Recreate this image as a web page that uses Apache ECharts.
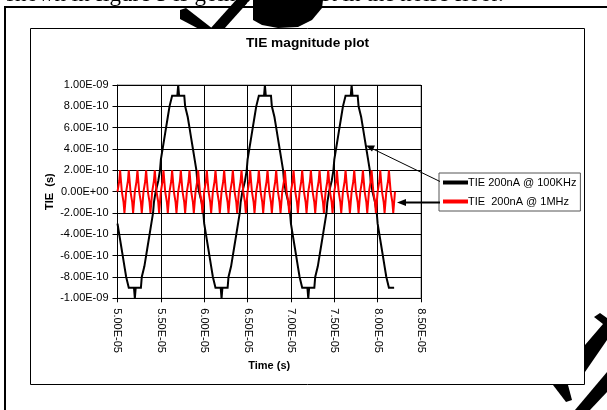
<!DOCTYPE html>
<html>
<head>
<meta charset="utf-8">
<script src="https://cdn.jsdelivr.net/npm/echarts@6/dist/echarts.min.js"></script>
<style>
  html, body { margin: 0; padding: 0; background: #fff; }
  #chart { width: 607px; height: 410px; }
</style>
</head>
<body>
<div id="chart"></div>
<script>
// Sampling grid of both TIE records
const t0 = 5.0e-5;      // first sample (s)
const dt = 1e-7;        // sample spacing (s)
const UNIT = 1e-10;     // TIE values below are stored in units of 0.1 ns

const seriesNames = ['TIE 200nA @ 100KHz', 'TIE  200nA @ 1MHz'];
const xTicks = { min: 5.0e-5, max: 8.5e-5, step: 5e-6 };
const yTicks = { min: -1e-9, max: 1e-9, step: 2e-10 };

// TIE with 100 kHz modulation (x 0.1 ns)
const tie100k = [
  -3,-3,-4,-4,-5,-5,-6,-6,-7,-7, -8,-8,-8,-9,-9,-9,-9,-9,-9,-9,
  -10,-9,-9,-9,-9,-9,-9,-9,-8,-8, -8,-7,-7,-6,-6,-5,-5,-4,-4,-3, -3,-2,-1,-1,0,0,0,1,1,2, 3,3,4,4,5,5,6,6,7,7, 8,8,8,9,9,9,9,9,9,9,
  10,9,9,9,9,9,9,9,8,8, 8,7,7,6,6,5,5,4,4,3, 3,2,1,1,0,0,0,-1,-1,-2, -3,-3,-4,-4,-5,-5,-6,-6,-7,-7, -8,-8,-8,-9,-9,-9,-9,-9,-9,-9,
  -10,-9,-9,-9,-9,-9,-9,-9,-8,-8, -8,-7,-7,-6,-6,-5,-5,-4,-4,-3, -3,-2,-1,-1,0,0,0,1,1,2, 3,3,4,4,5,5,6,6,7,7, 8,8,8,9,9,9,9,9,9,9,
  10,9,9,9,9,9,9,9,8,8, 8,7,7,6,6,5,5,4,4,3, 3,2,1,1,0,0,0,-1,-1,-2, -3,-3,-4,-4,-5,-5,-6,-6,-7,-7, -8,-8,-8,-9,-9,-9,-9,-9,-9,-9,
  -10,-9,-9,-9,-9,-9,-9,-9,-8,-8, -8,-7,-7,-6,-6,-5,-5,-4,-4,-3, -3,-2,-1,-1,0,0,0,1,1,2, 3,3,4,4,5,5,6,6,7,7, 8,8,8,9,9,9,9,9,9,9,
  10,9,9,9,9,9,9,9,8,8, 8,7,7,6,6,5,5,4,4,3, 3,2,1,1,0,0,0,-1,-1,-2, -3,-3,-4,-4,-5,-5,-6,-6,-7,-7, -8,-8,-8,-9,-9,-9,-9,-9,-9,-9
];

// TIE with 1 MHz modulation (x 0.1 ns)
const tie1M = [
  0,0,1,
  2,1,0,0,-1,-2,-1,0,0,1, 2,1,0,0,-1,-2,-1,0,0,1, 2,1,0,0,-1,-2,-1,0,0,1, 2,1,0,0,-1,-2,-1,0,0,1,
  2,1,0,0,-1,-2,-1,0,0,1, 2,1,0,0,-1,-2,-1,0,0,1, 2,1,0,0,-1,-2,-1,0,0,1, 2,1,0,0,-1,-2,-1,0,0,1,
  2,1,0,0,-1,-2,-1,0,0,1, 2,1,0,0,-1,-2,-1,0,0,1, 2,1,0,0,-1,-2,-1,0,0,1, 2,1,0,0,-1,-2,-1,0,0,1,
  2,1,0,0,-1,-2,-1,0,0,1, 2,1,0,0,-1,-2,-1,0,0,1, 2,1,0,0,-1,-2,-1,0,0,1, 2,1,0,0,-1,-2,-1,0,0,1,
  2,1,0,0,-1,-2,-1,0,0,1, 2,1,0,0,-1,-2,-1,0,0,1, 2,1,0,0,-1,-2,-1,0,0,1, 2,1,0,0,-1,-2,-1,0,0,1,
  2,1,0,0,-1,-2,-1,0,0,1, 2,1,0,0,-1,-2,-1,0,0,1, 2,1,0,0,-1,-2,-1,0,0,1, 2,1,0,0,-1,-2,-1,0,0,1,
  2,1,0,0,-1,-2,-1,0,0,1, 2,1,0,0,-1,-2,-1,0,0,1, 2,1,0,0,-1,-2,-1,0,0,1, 2,1,0,0,-1,-2,-1,0,0,1,
  2,1,0,0,-1,-2,-1,0,0,1, 2,1,0,0,-1,-2,-1,0,0,1, 2,1,0,0,-1,-2,-1,0,0,1,
  2,1,0,0,-1,-2,-1,0
];

function pairs(values) {
  return values.map((v, i) => [t0 + i * dt, v * UNIT]);
}

// Excel-style scientific label: 1.00E-09, 0.00E+00
function sci(v) {
  if (Math.abs(v) < 1e-20) return '0.00E+00';
  const parts = v.toExponential(2).split('e');
  const e = parseInt(parts[1], 10);
  const a = Math.abs(e);
  return parts[0] + 'E' + (e < 0 ? '-' : '+') + (a < 10 ? '0' : '') + a;
}

const FONT = '"Liberation Sans", Arial, sans-serif';

const chart = echarts.init(document.getElementById('chart'), null, { renderer: 'canvas' });

chart.setOption({
  animation: false,
  backgroundColor: '#fff',
  title: {
    text: 'TIE magnitude plot',
    left: 246, top: 36, padding: 0,
    textStyle: { fontFamily: FONT, fontSize: 13.7, fontWeight: 'bold', color: '#000' }
  },
  legend: {
    orient: 'vertical',
    left: 439, top: 173,
    padding: [4, 4, 4, 4],
    itemGap: 8,
    itemWidth: 25, itemHeight: 4,
    icon: 'rect',
    borderColor: '#555', borderWidth: 1,
    backgroundColor: '#fff',
    textStyle: { fontFamily: FONT, fontSize: 11, color: '#000', padding: [0, 0, 0, -5] },
    data: seriesNames
  },
  grid: {
    left: 117.5, top: 85, width: 303.5, height: 213.3,
    show: true, borderColor: '#808080', borderWidth: 1, backgroundColor: '#fff'
  },
  xAxis: {
    type: 'value',
    min: xTicks.min, max: xTicks.max, interval: xTicks.step,
    name: 'Time (s)', nameLocation: 'middle', nameGap: 58,
    nameTextStyle: { fontFamily: FONT, fontSize: 11, fontWeight: 'bold', color: '#000' },
    axisLine: { show: true, onZero: false, lineStyle: { color: '#000', width: 1 } },
    axisTick: { show: true, length: 4, lineStyle: { color: '#000' } },
    axisLabel: { rotate: -90, margin: 10, fontFamily: FONT, fontSize: 11, color: '#000', formatter: sci },
    splitLine: { show: true, lineStyle: { color: '#000', width: 1 } }
  },
  yAxis: {
    type: 'value',
    min: yTicks.min, max: yTicks.max, interval: yTicks.step,
    name: 'TIE  (s)', nameLocation: 'middle', nameGap: 62,
    nameTextStyle: { fontFamily: FONT, fontSize: 11, fontWeight: 'bold', color: '#000' },
    axisLine: { show: true, onZero: false, lineStyle: { color: '#000', width: 1 } },
    axisTick: { show: true, length: 5, lineStyle: { color: '#000' } },
    axisLabel: { margin: 9, fontFamily: FONT, fontSize: 11, color: '#000', formatter: sci },
    splitLine: { show: true, lineStyle: { color: '#000', width: 1 } }
  },
  series: [
    {
      name: seriesNames[0], type: 'line', showSymbol: false, z: 3,
      lineStyle: { color: '#000', width: 2, join: 'miter' }, itemStyle: { color: '#000' },
      data: pairs(tie100k)
    },
    {
      name: seriesNames[1], type: 'line', showSymbol: false, z: 4,
      lineStyle: { color: '#ff0000', width: 2 }, itemStyle: { color: '#ff0000' },
      data: pairs(tie1M)
    }
  ],
  graphic: [
    // page body text line above the figure
    { type: 'text', z: -30, style: { text: 'shown in figure 5 is going to be lost in the noise floor.', x: 6, y: 6, font: '23px "Liberation Serif", serif', fill: '#000', verticalAlign: 'bottom' } },
    // large dark glyph strokes crossing the page
    { type: 'polygon', z: -25, shape: { points: [[180,10],[186,8],[213,29],[199,29],[180,19]] }, style: { fill: '#000' } },
    { type: 'polygon', z: -25, shape: { points: [[210,29],[224,29],[250,0],[236,0]] }, style: { fill: '#000' } },
    { type: 'polygon', z: -25, shape: { points: [[253,0],[323,0],[322,8],[312,20],[298,27],[278,28],[262,25],[253,20]] }, style: { fill: '#000' } },
    { type: 'circle', z: -24, shape: { cx: 249, cy: 4, r: 2 }, style: { fill: '#fff' } },
    { type: 'polygon', z: -25, shape: { points: [[594,317],[600,313],[607,318],[607,340],[585,372],[585,345],[603,324]] }, style: { fill: '#000' } },
    { type: 'polygon', z: -25, shape: { points: [[553,385],[568,385],[572,400],[566,402]] }, style: { fill: '#000' } },
    { type: 'polygon', z: -25, shape: { points: [[575,410],[607,372],[607,392],[590,410]] }, style: { fill: '#000' } },
    // outer frame of the figure
    { type: 'polyline', z: -20, shape: { points: [[5,410],[5,7],[607,7]] }, style: { stroke: '#000', lineWidth: 2, fill: null } },
    // chart area box
    { type: 'rect', z: -15, shape: { x: 30.5, y: 28.5, width: 554, height: 356 }, style: { fill: '#fff', stroke: '#000', lineWidth: 1 } },
    // callout arrows from the legend to the curves
    { type: 'line', z: 50, shape: { x1: 440, y1: 181.5, x2: 372, y2: 148.5 }, style: { stroke: '#000', lineWidth: 1 } },
    { type: 'polygon', z: 50, shape: { points: [[366,145.5],[375,145.5],[372,151.5]] }, style: { fill: '#000' } },
    { type: 'line', z: 50, shape: { x1: 440, y1: 202.5, x2: 404, y2: 202.5 }, style: { stroke: '#000', lineWidth: 2 } },
    { type: 'polygon', z: 50, shape: { points: [[397,202.5],[406,199],[406,206]] }, style: { fill: '#000' } }
  ]
});
</script>
</body>
</html>
